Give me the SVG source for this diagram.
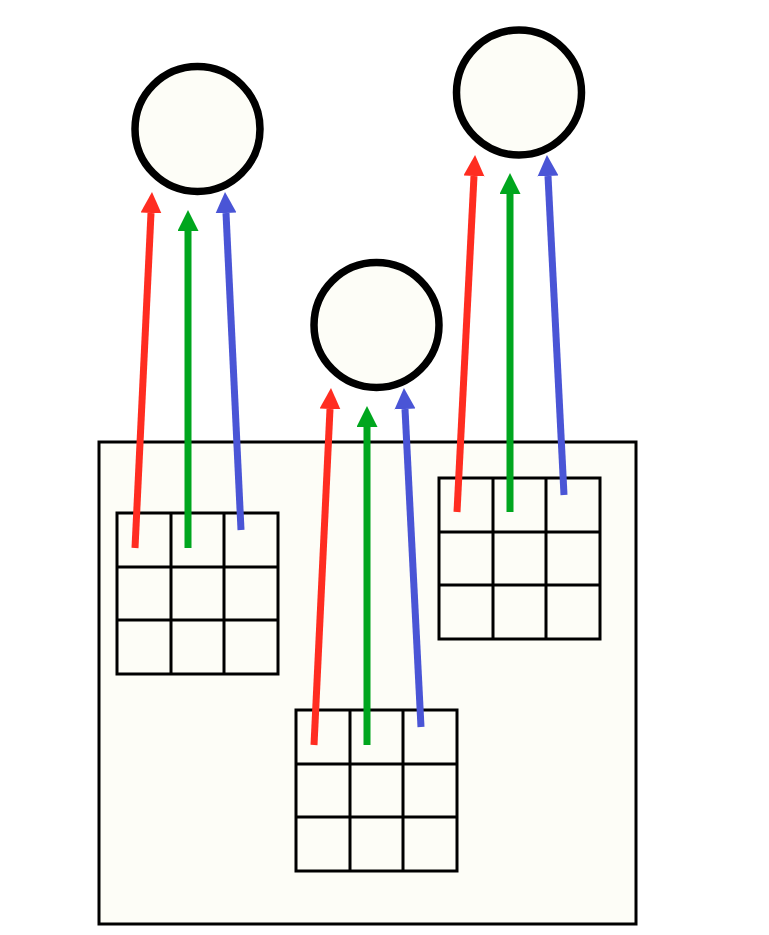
<svg xmlns="http://www.w3.org/2000/svg" width="769" height="935" viewBox="0 0 769 935">
<defs>
<style>
.bg{fill:#ffffff}
.box{fill:#fdfdf7;stroke:#000;stroke-width:3}
.grid{fill:#fdfdf7;stroke:#000;stroke-width:3}
.gl{stroke:#000;stroke-width:3;fill:none}
.node{fill:#fdfdf7;stroke:#000;stroke-width:7.5}
.r{stroke:#ff2d21;stroke-width:7;fill:none}
.g{stroke:#00a61e;stroke-width:7;fill:none}
.b{stroke:#4a55d6;stroke-width:7;fill:none}
</style>
<marker id="ar" markerUnits="userSpaceOnUse" markerWidth="22" markerHeight="22" refX="0" refY="10.5" orient="auto"><path d="M0,0 L21,10.5 L0,21 z" fill="#ff2d21"/></marker>
<marker id="ag" markerUnits="userSpaceOnUse" markerWidth="22" markerHeight="22" refX="0" refY="10.5" orient="auto"><path d="M0,0 L21,10.5 L0,21 z" fill="#00a61e"/></marker>
<marker id="ab" markerUnits="userSpaceOnUse" markerWidth="22" markerHeight="22" refX="0" refY="10.5" orient="auto"><path d="M0,0 L21,10.5 L0,21 z" fill="#4a55d6"/></marker>
</defs>
<rect class="bg" x="0" y="0" width="769" height="935"/>
<g id="container"><rect class="box" x="99" y="442" width="537" height="482"/></g>
<g id="grid1">
<rect class="grid" x="117" y="513" width="161" height="161"/>
<path class="gl" d="M171,513V674M224,513V674M117,567H278M117,620H278"/>
</g>
<g id="grid2">
<rect class="grid" x="296" y="710" width="161" height="161"/>
<path class="gl" d="M350,710V871M403,710V871M296,764H457M296,817H457"/>
</g>
<g id="grid3">
<rect class="grid" x="439" y="478" width="161" height="161"/>
<path class="gl" d="M493,478V639M546,478V639M439,532H600M439,585H600"/>
</g>
<g id="node1"><circle class="node" cx="197.5" cy="129" r="62.5"/></g>
<g id="node2"><circle class="node" cx="376.5" cy="325" r="62.5"/></g>
<g id="node3"><circle class="node" cx="519" cy="92.5" r="62.5"/></g>
<g id="connectors">
<line class="r" x1="135" y1="548" x2="151" y2="213" marker-end="url(#ar)"/>
<line class="g" x1="188" y1="548" x2="188" y2="231" marker-end="url(#ag)"/>
<line class="b" x1="241" y1="530" x2="226" y2="213" marker-end="url(#ab)"/>
<line class="r" x1="314" y1="745" x2="330" y2="409" marker-end="url(#ar)"/>
<line class="g" x1="367" y1="745" x2="367" y2="427" marker-end="url(#ag)"/>
<line class="b" x1="421" y1="727" x2="405" y2="409" marker-end="url(#ab)"/>
<line class="r" x1="457" y1="512" x2="474" y2="176" marker-end="url(#ar)"/>
<line class="g" x1="510" y1="512" x2="510" y2="194" marker-end="url(#ag)"/>
<line class="b" x1="564" y1="495" x2="548" y2="176" marker-end="url(#ab)"/>
</g>
</svg>
